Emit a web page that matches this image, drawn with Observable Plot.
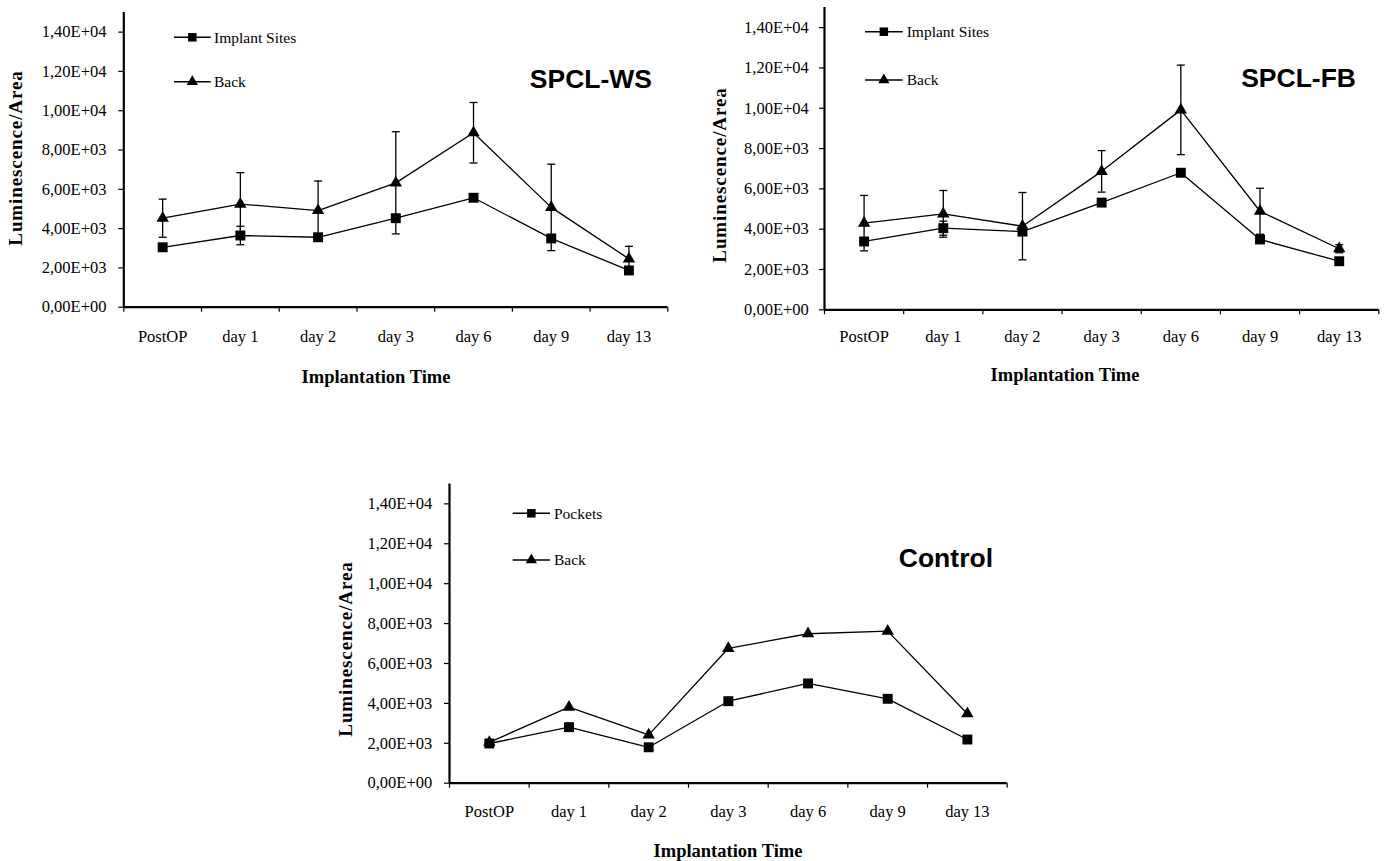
<!DOCTYPE html>
<html><head><meta charset="utf-8">
<script src="https://cdn.jsdelivr.net/npm/d3@7"></script>
<script src="https://cdn.jsdelivr.net/npm/@observablehq/plot@0.6"></script>
<style>
body{margin:0;background:#fff}
#root{position:relative;width:1385px;height:861px;overflow:hidden;background:#fff}
.panel{position:absolute}
.panel svg{overflow:visible}
</style>
</head><body><div id="root"></div>
<script>
// ---- data ----
const categories = ["PostOP", "day 1", "day 2", "day 3", "day 6", "day 9", "day 13"];
const yTicks = [0, 2000, 4000, 6000, 8000, 10000, 12000, 14000];
const yMax = 15000;

const wsImplant    = [3050, 3650, 3560, 4530, 5570, 3500, 1870];
const wsImplantErr = [100, 470, 100, 100, 100, 100, 100];
const wsBack       = [4530, 5250, 4920, 6330, 8880, 5080, 2460];
const wsBackErr    = [970, 1600, 1500, 2600, 1540, 2200, 640];

const fbImplant    = [3390, 4050, 3880, 5320, 6800, 3490, 2410];
const fbImplantErr = [100, 350, 100, 100, 100, 100, 100];
const fbBack       = [4300, 4760, 4150, 6870, 9920, 4890, 3030];
const fbBackErr    = [1375, 1160, 1670, 1030, 2220, 1140, 200];

const ctrlPockets  = [1990, 2810, 1800, 4110, 5000, 4230, 2190];
const ctrlBack     = [2050, 3810, 2420, 6760, 7490, 7620, 3480];

// ---- helpers ----
const fmt = v => {
  if (v === 0) return "0,00E+00";
  const e = Math.floor(Math.log10(v));
  const m = (v / 10 ** e).toFixed(2).replace(".", ",");
  return `${m}E+${String(e).padStart(2, "0")}`;
};
const SERIF = "'Liberation Serif', 'Times New Roman', serif";
const SANS = "'Liberation Sans', Arial, sans-serif";
const n = categories.length;
const xDomain = [-0.5, n - 0.5];
const bounds = d3.range(n + 1).map(i => i - 0.5);
const capSymbol = {draw(ctx, size) { const r = Math.sqrt(size / Math.PI); ctx.moveTo(-r, 0); ctx.lineTo(r, 0); }};

function rowsOf(values, errs, series) {
  return values.map((v, i) => ({i, series, v, e: errs ? errs[i] : 0}));
}

function panel(cfg) {
  const sq = rowsOf(cfg.sq, cfg.sqErr, cfg.sqName);
  const tri = rowsOf(cfg.tri, cfg.triErr, "Back");
  const all = sq.concat(tri);
  const withErr = all.filter(d => d.e > 0);
  const marks = [
    Plot.axisY(yTicks, {anchor: "left", label: null, tickSize: 5, tickPadding: cfg.yPad, tickFormat: fmt, fontSize: 16.5, strokeWidth: 1.2}),
    Plot.axisX(d3.range(n), {anchor: "bottom", label: null, tickSize: 0, tickPadding: cfg.xPad, tickFormat: i => categories[i], fontSize: 16.5}),
    Plot.axisX(bounds, {anchor: "bottom", label: null, tickSize: 5, tickFormat: () => "", strokeWidth: 1.2}),
    Plot.ruleX([xDomain[0]], {y1: 0, y2: yMax, strokeWidth: 2.2}),
    Plot.ruleY([0], {strokeWidth: 2.2}),
    Plot.line(sq, {x: "i", y: "v", stroke: "black", strokeWidth: 1.3}),
    Plot.line(tri, {x: "i", y: "v", stroke: "black", strokeWidth: 1.3}),
  ];
  if (withErr.length) {
    marks.push(
      Plot.ruleX(withErr, {x: "i", y1: d => d.v - d.e, y2: d => d.v + d.e, stroke: "black", strokeWidth: 1.3}),
      Plot.dot(withErr, {x: "i", y: d => d.v + d.e, symbol: capSymbol, r: 4, stroke: "black", strokeWidth: 1.3, fill: "none"}),
      Plot.dot(withErr, {x: "i", y: d => d.v - d.e, symbol: capSymbol, r: 4, stroke: "black", strokeWidth: 1.3, fill: "none"})
    );
  }
  marks.push(
    Plot.dot(sq, {x: "i", y: "v", symbol: "square", r: 5.6, fill: "black", stroke: "none"}),
    Plot.dot(tri, {x: "i", y: "v", symbol: "triangle", r: 4.6, fill: "black", stroke: "none"})
  );
  const chart = Plot.plot({
    width: cfg.w, height: cfg.h,
    marginLeft: cfg.mL, marginRight: cfg.mR, marginTop: cfg.mT, marginBottom: cfg.mB,
    x: {type: "linear", domain: xDomain, axis: null, label: null},
    y: {type: "linear", domain: [0, yMax], axis: null, label: null},
    style: {fontFamily: SERIF, background: "transparent", color: "black", overflow: "visible"},
    marks
  });
  const div = document.createElement("div");
  div.className = "panel";
  div.style.left = cfg.left + "px";
  div.style.top = cfg.top + "px";
  div.appendChild(chart);
  document.getElementById("root").appendChild(div);

  const svg = d3.select(chart);
  const ox = cfg.left, oy = cfg.top;
  // y-axis title
  svg.append("text")
    .attr("transform", `translate(${cfg.yt[0] - ox},${cfg.yt[1] - oy}) rotate(-90)`)
    .attr("text-anchor", "middle").attr("dominant-baseline", "central")
    .style("font-family", SERIF).style("font-weight", "bold").style("font-size", "19px")
    .style("letter-spacing", "0.9px")
    .text("Luminescence/Area");
  // x-axis title
  svg.append("text")
    .attr("x", cfg.xt[0] - ox).attr("y", cfg.xt[1] - oy)
    .attr("text-anchor", "middle")
    .style("font-family", SERIF).style("font-weight", "bold").style("font-size", "18.5px")
    .text("Implantation Time");
  // panel title
  svg.append("text")
    .attr("x", cfg.title[0] - ox).attr("y", cfg.title[1] - oy)
    .attr("text-anchor", "end")
    .style("font-family", SANS).style("font-weight", "bold").style("font-size", "26.5px")
    .text(cfg.titleText);
  // legend
  const leg = [[cfg.sqName, d3.symbolSquare, cfg.leg.y[0], 4.8], ["Back", d3.symbolTriangle, cfg.leg.y[1], 4.2]];
  leg.forEach(([name, sym, y, r]) => {
    const g = svg.append("g").attr("transform", `translate(0,${y - oy})`);
    g.append("line").attr("x1", cfg.leg.x1 - ox).attr("x2", cfg.leg.x2 - ox).attr("y1", 0).attr("y2", 0)
      .attr("stroke", "black").attr("stroke-width", 1.5);
    g.append("path").attr("d", d3.symbol(sym, r * r * Math.PI)())
      .attr("transform", `translate(${(cfg.leg.x1 + cfg.leg.x2) / 2 - ox},0)`).attr("fill", "black");
    g.append("text").attr("x", cfg.leg.tx - ox).attr("y", 0).attr("dy", "0.35em")
      .attr("text-anchor", "start")
      .style("font-family", SERIF).style("font-size", "15.5px").text(name);
  });
}

panel({
  left: 0, top: 0, w: 690, h: 400, mL: 123.3, mR: 22.7, mT: 12, mB: 93.3, yPad: 12.3, xPad: 23.3,
  sq: wsImplant, sqErr: wsImplantErr, sqName: "Implant Sites", tri: wsBack, triErr: wsBackErr,
  yt: [15.5, 158], xt: [376, 383], title: [652, 88], titleText: "SPCL-WS",
  leg: {x1: 174, x2: 210.7, tx: 214, y: [37.3, 81.7]}
});
panel({
  left: 700, top: 0, w: 685, h: 400, mL: 124, mR: 6.7, mT: 7, mB: 90.7, yPad: 10.7, xPad: 20,
  sq: fbImplant, sqErr: fbImplantErr, sqName: "Implant Sites", tri: fbBack, triErr: fbBackErr,
  yt: [719.5, 175], xt: [1065, 381], title: [1356, 87], titleText: "SPCL-FB",
  leg: {x1: 865, x2: 902.7, tx: 906.7, y: [31.7, 80]}
});
panel({
  left: 330, top: 470, w: 700, h: 391, mL: 119, mR: 23.3, mT: 13.4, mB: 78.3, yPad: 12.3, xPad: 21.7,
  sq: ctrlPockets, sqErr: null, sqName: "Pockets", tri: ctrlBack, triErr: null,
  yt: [345.5, 649], xt: [728, 856.7], title: [993, 567], titleText: "Control",
  leg: {x1: 512.7, x2: 550, tx: 554, y: [513.3, 560]}
});
</script></body></html>
